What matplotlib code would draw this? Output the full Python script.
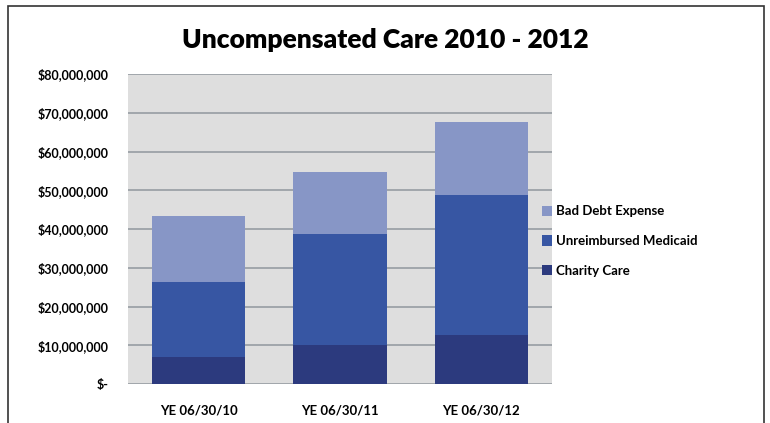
import numpy as np
import matplotlib.pyplot as plt
from matplotlib.patches import Rectangle
from matplotlib.ticker import FuncFormatter

plt.rcParams['font.family'] = ['Lato', 'DejaVu Sans']

years = ['YE 06/30/10', 'YE 06/30/11', 'YE 06/30/12']
charity = [7.0e6, 10.0e6, 12.6e6]
medicaid = [19.4e6, 28.7e6, 36.2e6]
bad_debt = [16.9e6, 15.9e6, 18.8e6]

fig = plt.figure(figsize=(7.7, 4.23), dpi=100)
ax = fig.add_axes([0.166, 0.092, 0.551, 0.733])
ax.set_facecolor('#dedede')

x = np.arange(len(years))
w = 0.66
ax.bar(x, charity, w, color='#2c3a7e', zorder=3, label='Charity Care')
ax.bar(x, medicaid, w, bottom=charity, color='#3756a3', zorder=3, label='Unreimbursed Medicaid')
bot2 = np.array(charity) + np.array(medicaid)
ax.bar(x, bad_debt, w, bottom=bot2, color='#8796c6', zorder=3, label='Bad Debt Expense')

ax.set_xlim(-0.5, 2.5)
ax.set_ylim(0, 80e6)
ax.set_yticks(np.arange(0, 80e6 + 1, 10e6))
ax.yaxis.set_major_formatter(FuncFormatter(lambda v, p: '$-' if v == 0 else '${:,.0f}'.format(v)))
ax.grid(axis='y', color='#979ca2', linewidth=1.2, zorder=0)
ax.set_xticks(x)
ax.set_xticklabels(years)
ax.tick_params(length=0, labelsize=9.5)
ax.tick_params(axis='y', pad=14, labelsize=9)
ax.tick_params(axis='x', pad=15)
for lab in ax.get_xticklabels() + ax.get_yticklabels():
    lab.set_fontweight('bold')
for s in ax.spines.values():
    s.set_visible(False)

fig.text(0.5, 0.905, 'Uncompensated Care 2010 - 2012', ha='center', va='center',
         fontsize=19, fontweight='heavy')

h, l = ax.get_legend_handles_labels()
fig.legend(h[::-1], l[::-1], loc='center left', bbox_to_anchor=(0.688, 0.43),
           frameon=False, handlelength=0.8, handleheight=0.8, handletextpad=0.3,
           labelspacing=1.35, prop={'size': 9.5, 'weight': 'bold'})

fig.patches.append(Rectangle((0.01, -0.1), 0.982, 1.085, transform=fig.transFigure,
                             fill=False, edgecolor='#333333', linewidth=1.2))

fig.savefig('out.png', dpi=100)
